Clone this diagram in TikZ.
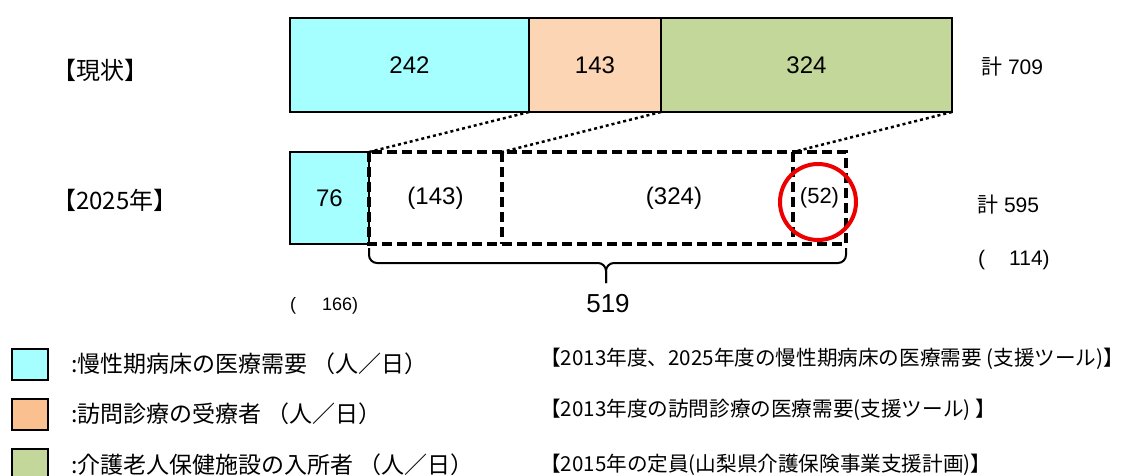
\documentclass[tikz,border=0pt]{standalone}
\usepackage{fontspec}
\setmainfont{Liberation Sans}
\newfontfamily\jp{Noto Sans CJK JP}
\usetikzlibrary{positioning}

\definecolor{barcyan}{RGB}{166,255,255}
\definecolor{barpeach}{RGB}{252,213,181}
\definecolor{legpeach}{RGB}{250,192,144}
\definecolor{bargreen}{RGB}{196,215,155}
\definecolor{ringred}{RGB}{236,0,0}

\newcommand\numsize{\fontsize{24}{28}\selectfont}
\newcommand\sidesize{\fontsize{21}{25}\selectfont}

\tikzset{
    bar/.style={draw, line width=2pt, anchor=north west, outer sep=0pt, inner sep=0pt,
        minimum height=94pt, font=\numsize},
    dbox/.style={anchor=north west, outer sep=0pt, inner sep=0pt,
        minimum height=92pt, font=\numsize},
    dline/.style={line width=3.2pt, dash pattern=on 10pt off 5pt},
    link/.style={line width=2.5pt, dash pattern=on 3pt off 3pt},
    brace/.style={line width=2pt, rounded corners=8pt},
    legbox/.style={draw, line width=2pt, anchor=north west, outer sep=0pt,
        minimum width=36pt, minimum height=31pt},
    side/.style={anchor=west, inner sep=0pt, font=\sidesize},
    rowlabel/.style={anchor=west, inner sep=0pt, font=\jp\fontsize{24}{28}\selectfont},
    legtext/.style={anchor=west, inner sep=0pt, font=\jp\fontsize{23}{27}\selectfont},
    source/.style={anchor=west, inner sep=0pt, font=\jp\fontsize{20.6}{25}\selectfont}
}

\begin{document}
\begin{tikzpicture}[x=1pt, y=-1pt]

    \useasboundingbox (0,0) rectangle (1122,476);

    \coordinate (C1) at (290, 18);
    \coordinate (C2) at (290, 152);
    \coordinate (C3) at (12, 349);
    \coordinate (C4) at (12, 399);
    \coordinate (C5) at (12, 449);

    % row labels
    \node[rowlabel] (R1) at (52, 70)  {【現状】};
    \node[rowlabel] (R2) at (52, 200) {【2025年】};

    % current
    \node[bar, fill=barcyan,  minimum width=239pt] (B1) at (C1) {242};
    \node[bar, fill=barpeach, minimum width=132pt] (B2) at (B1.north east) {143};
    \node[bar, fill=bargreen, minimum width=291pt] (B3) at (B2.north east) {324};

    % 2025
    \node[bar, fill=barcyan, minimum width=79pt, minimum height=92pt] (F1) at (C2) {76};
    \node[dbox, minimum width=133pt] (D1) at (F1.north east) {(143)};
    \node[dbox, minimum width=344pt] (D2) at (D1.north east) {(324)};
    \node[dbox, anchor=north east, minimum width=53pt, font=\fontsize{22}{25}\selectfont]
        (D3) at (D2.north east) {(52)};

    \draw [dline] (D1.north west) rectangle (D2.south east);
    \draw [dline] (D1.north east) -- (D1.south east);
    \draw [dline] (D3.north west) -- (D3.south west);

    \node[circle, draw=ringred, line width=4pt, minimum size=76pt] (ring) at (818, 202) {};

    \draw [link] (B1.south east) -- (D1.north west);
    \draw [link] (B2.south east) -- (D2.north west);
    \draw [link] (B3.south east) -- (D3.north west);

    % brace
    \node[font=\fontsize{26}{30}\selectfont, inner sep=0pt] (total) at (608, 304) {519};
    \coordinate (BL) at ([yshift=-4pt]D1.south west);
    \coordinate (BR) at ([yshift=-4pt]D2.south east);
    \coordinate (BM) at (606, 263);
    \coordinate (BT) at (606, 283);
    \draw [brace] (BL) |- (BM) -- (BT);
    \draw [brace] (BR) |- (BM) -- (BT);

    \node[side, font=\fontsize{18}{22}\selectfont] (S1) at (290, 306) {(\hspace{26pt}166)};
    \node[side] (S2) at (981, 67)  {{\jp 計} 709};
    \node[side] (S3) at (977, 205) {{\jp 計} 595};
    \node[side] (S4) at (978, 260) {(\hspace{24pt}114)};

    % legend
    \node[legbox, fill=barcyan]  (L1) at (C3) {};
    \node[legbox, fill=legpeach] (L2) at (C4) {};
    \node[legbox, fill=bargreen] (L3) at (C5) {};

    \node[legtext] (T1) at (71, 364) {:慢性期病床の医療需要 （人／日）};
    \node[legtext] (T2) at (71, 414) {:訪問診療の受療者 （人／日）};
    \node[legtext] (T3) at (71, 465) {:介護老人保健施設の入所者 （人／日）};

    \node[source] (Q1) at (540, 359) {【2013年度、2025年度の慢性期病床の医療需要 (支援ツール)】};
    \node[source] (Q2) at (540, 410) {【2013年度の訪問診療の医療需要(支援ツール) 】};
    \node[source] (Q3) at (540, 465) {【2015年の定員(山梨県介護保険事業支援計画)】};

\end{tikzpicture}
\end{document}
